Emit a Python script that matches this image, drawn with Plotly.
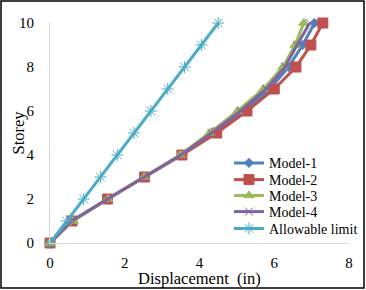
import plotly.graph_objects as go

storey = [0, 1, 2, 3, 4, 5, 6, 7, 8, 9, 10]
model1 = [0, 0.60, 1.53, 2.52, 3.50, 4.40, 5.20, 5.88, 6.38, 6.76, 7.08]
model2 = [0, 0.59, 1.54, 2.53, 3.53, 4.46, 5.27, 6.00, 6.58, 6.98, 7.30]
model3 = [0, 0.62, 1.55, 2.52, 3.48, 4.27, 5.02, 5.71, 6.23, 6.56, 6.79]
model4 = [0, 0.58, 1.55, 2.52, 3.50, 4.32, 5.10, 5.78, 6.29, 6.61, 6.95]
allowable = [0, 0.45, 0.90, 1.35, 1.80, 2.25, 2.70, 3.15, 3.60, 4.05, 4.50]

series = [
    ("Model-1", model1, "#4F81BD", "diamond", 7),
    ("Model-2", model2, "#C0504D", "square", 10),
    ("Model-3", model3, "#9BBB59", "triangle-up", 9),
    ("Model-4", model4, "#8064A2", "x-thin-open", 8),
    ("Allowable limit", allowable, "#4BACC6", "asterisk-open", 10),
]

font = "Liberation Serif, Times New Roman, serif"
legend_rows = [163.3, 180.0, 195.9, 212.0, 228.8]  # pixel centres of legend rows

fig = go.Figure()
layout_legends = {}
for i, (name, xs, color, sym, size) in enumerate(series):
    key = "legend" if i == 0 else f"legend{i + 1}"
    fig.add_trace(go.Scatter(
        x=xs, y=storey, name=name, mode="lines+markers",
        line=dict(color=color, width=3),
        marker=dict(symbol=sym, size=size, color=color,
                    line=dict(color=color, width=1)),
        cliponaxis=False, legend=key,
    ))
    layout_legends[key] = dict(
        x=(229 - 50) / 299, y=(243 - legend_rows[i]) / 220,
        xanchor="left", yanchor="middle",
        font=dict(family=font, size=14, color="black"),
        bgcolor="rgba(0,0,0,0)", borderwidth=0,
    )

fig.update_layout(
    width=366, height=290,
    margin=dict(l=50, r=17, t=23, b=47, autoexpand=False),
    paper_bgcolor="white", plot_bgcolor="white",
    font=dict(family=font, size=15, color="black"),
    showlegend=True,
    xaxis=dict(range=[0, 8], tickvals=[0, 2, 4, 6, 8], showgrid=False,
               zeroline=False, showline=True, linecolor="#D9D9D9", linewidth=1,
               ticks="", ticklabelstandoff=6, automargin=False),
    yaxis=dict(range=[0, 10], tickvals=[0, 2, 4, 6, 8, 10], showgrid=False,
               zeroline=False, showline=True, linecolor="#D9D9D9", linewidth=1,
               ticks="", ticklabelstandoff=12, automargin=False),
    annotations=[
        dict(text="Displacement  (in)", xref="paper", yref="paper",
             x=0.5, y=(243 - 278) / 220, xanchor="center", yanchor="middle",
             showarrow=False, font=dict(family=font, size=16.5)),
        dict(text="Storey", xref="paper", yref="paper", textangle=-90,
             x=(17.5 - 50) / 299, y=0.5, xanchor="center", yanchor="middle",
             showarrow=False, font=dict(family=font, size=16.5)),
    ],
    shapes=[dict(type="rect", xref="paper", yref="paper",
                 x0=(1 - 50) / 299, x1=(364 - 50) / 299,
                 y0=(243 - 288) / 220, y1=(243 - 1) / 220,
                 line=dict(color="black", width=1.5))],
    **layout_legends,
)

fig.write_html("out.html", config={"displayModeBar": False},
               post_script="document.body.style.margin='0';")
